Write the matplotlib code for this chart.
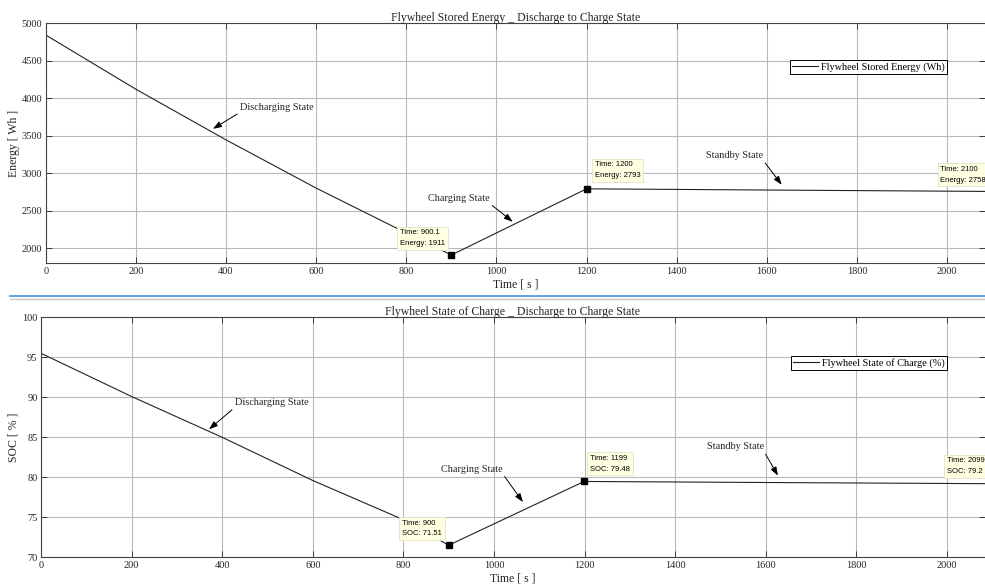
import numpy as np
import matplotlib.pyplot as plt
from matplotlib.lines import Line2D

# ---------------- data ----------------
time_e = [0, 200, 400, 600, 800, 900.1, 1200, 1600, 2100]
energy = [4844, 4121, 3446, 2803, 2204, 1911, 2793, 2777, 2758]
tip_e_time = [900.1, 1200, 2100]
tip_e_val = [1911, 2793, 2758]

time_s = [0, 200, 400, 600, 800, 900, 1199, 1600, 2099]
soc = [95.5, 90.1, 85.0, 79.6, 74.7, 71.51, 79.48, 79.35, 79.2]
tip_s_time = [900, 1199, 2099]
tip_s_val = [71.51, 79.48, 79.2]

serif = ['Liberation Serif', 'DejaVu Serif']
sans = ['Liberation Sans', 'DejaVu Sans']
plt.rcParams['font.family'] = serif
plt.rcParams['font.size'] = 8

fig = plt.figure(figsize=(9.85, 5.88), dpi=100)
ax1 = fig.add_axes([0.0464, 0.5522, 0.9536, 0.4082])
ax2 = fig.add_axes([0.0416, 0.0522, 0.9584, 0.4082])

txtcol = '#262626'


def style(ax, yticks):
    ax.set_xlim(0, 2084)
    ax.set_xticks(np.arange(0, 2001, 200))
    ax.set_yticks(yticks)
    ax.grid(True, color='#b8b8b8', lw=0.8)
    ax.set_axisbelow(True)
    ax.tick_params(direction='in', top=True, right=True, length=4,
                   colors=txtcol, labelsize=7.5, width=0.6, pad=2.5)
    for s in ax.spines.values():
        s.set_color('#444444')
        s.set_linewidth(0.8)
    ax.spines['right'].set_visible(False)


def tip(ax, x, y, s):
    ax.text(x, y, s, family=sans, fontsize=5.5, ha='left', va='center',
            linespacing=1.75,
            bbox=dict(boxstyle='square,pad=0.35', fc='#ffffe1', ec='#e4e4c8', lw=0.6))


def note(ax, s, xt, yt, xa, ya, rel):
    ax.annotate(s, xy=(xa, ya), xytext=(xt, yt), fontsize=7.4, color=txtcol,
                va='center', ha='left',
                arrowprops=dict(arrowstyle='-|>,head_length=0.7,head_width=0.25',
                                color='black', lw=0.7, relpos=rel,
                                shrinkA=0, shrinkB=0))


# ---------------- energy ----------------
ax1.plot(time_e, energy, color='#222222', lw=0.8, label='Flywheel Stored Energy (Wh)')
ax1.plot(tip_e_time, tip_e_val, 's', color='black', ms=4.5)
style(ax1, np.arange(2000, 5001, 500))
ax1.set_ylim(1800, 5000)
ax1.set_title('Flywheel Stored Energy _ Discharge to Charge State', fontsize=8.5, pad=2, color=txtcol)
ax1.set_xlabel('Time [ s ]', fontsize=8.5, labelpad=2, color=txtcol)
ax1.set_ylabel('Energy [ Wh ]', fontsize=8.5, color=txtcol)
ax1.yaxis.set_label_coords(-0.027, 0.5)
leg = ax1.legend(loc='upper right', bbox_to_anchor=(0.9595, 0.847), fancybox=False,
                 edgecolor='black', framealpha=1, handlelength=2.5, handletextpad=0.3,
                 borderpad=0.2, borderaxespad=0, fontsize=7.4)
leg.get_frame().set_linewidth(0.7)

note(ax1, 'Discharging State', 431, 3872, 371, 3593, (0, 0))
note(ax1, 'Charging State', 848, 2660, 1036, 2354, (1, 0))
note(ax1, 'Standby State', 1465, 3233, 1633, 2847, (1, 0))
tip(ax1, 786, 2134, 'Time: 900.1\nEnergy: 1911')
tip(ax1, 1219, 3040, 'Time: 1200\nEnergy: 2793')
tip(ax1, 1985, 2980, 'Time: 2100\nEnergy: 2758')

# ---------------- SOC ----------------
ax2.plot(time_s, soc, color='#222222', lw=0.8, label='Flywheel State of Charge (%)')
ax2.plot(tip_s_time, tip_s_val, 's', color='black', ms=4.5)
style(ax2, np.arange(70, 101, 5))
ax2.set_ylim(70, 100)
ax2.set_title('Flywheel State of Charge _ Discharge to Charge State', fontsize=8.5, pad=2, color=txtcol)
ax2.set_xlabel('Time [ s ]', fontsize=8.5, labelpad=2, color=txtcol)
ax2.set_ylabel('SOC [ % ]', fontsize=8.5, color=txtcol)
ax2.yaxis.set_label_coords(-0.0225, 0.5)
leg = ax2.legend(loc='upper right', bbox_to_anchor=(0.9597, 0.839), fancybox=False,
                 edgecolor='black', framealpha=1, handlelength=2.5, handletextpad=0.3,
                 borderpad=0.2, borderaxespad=0, fontsize=7.4)
leg.get_frame().set_linewidth(0.7)

note(ax2, 'Discharging State', 428, 89.3, 371, 86.0, (0, 0))
note(ax2, 'Charging State', 883, 81.0, 1064, 76.9, (1, 0))
note(ax2, 'Standby State', 1470, 83.8, 1627, 80.2, (1, 0))
tip(ax2, 797, 73.6, 'Time: 900\nSOC: 71.51')
tip(ax2, 1212, 81.7, 'Time: 1199\nSOC: 79.48')
tip(ax2, 2000, 81.4, 'Time: 2099\nSOC: 79.2')

# separator lines between the two panels
fig.add_artist(Line2D([0.01, 1], [0.4966, 0.4966], color='#4a90d9', lw=1.2))
fig.add_artist(Line2D([0.01, 1], [0.4915, 0.4915], color='#c8c8c8', lw=1.0))

fig.savefig('out.png', dpi=100)
